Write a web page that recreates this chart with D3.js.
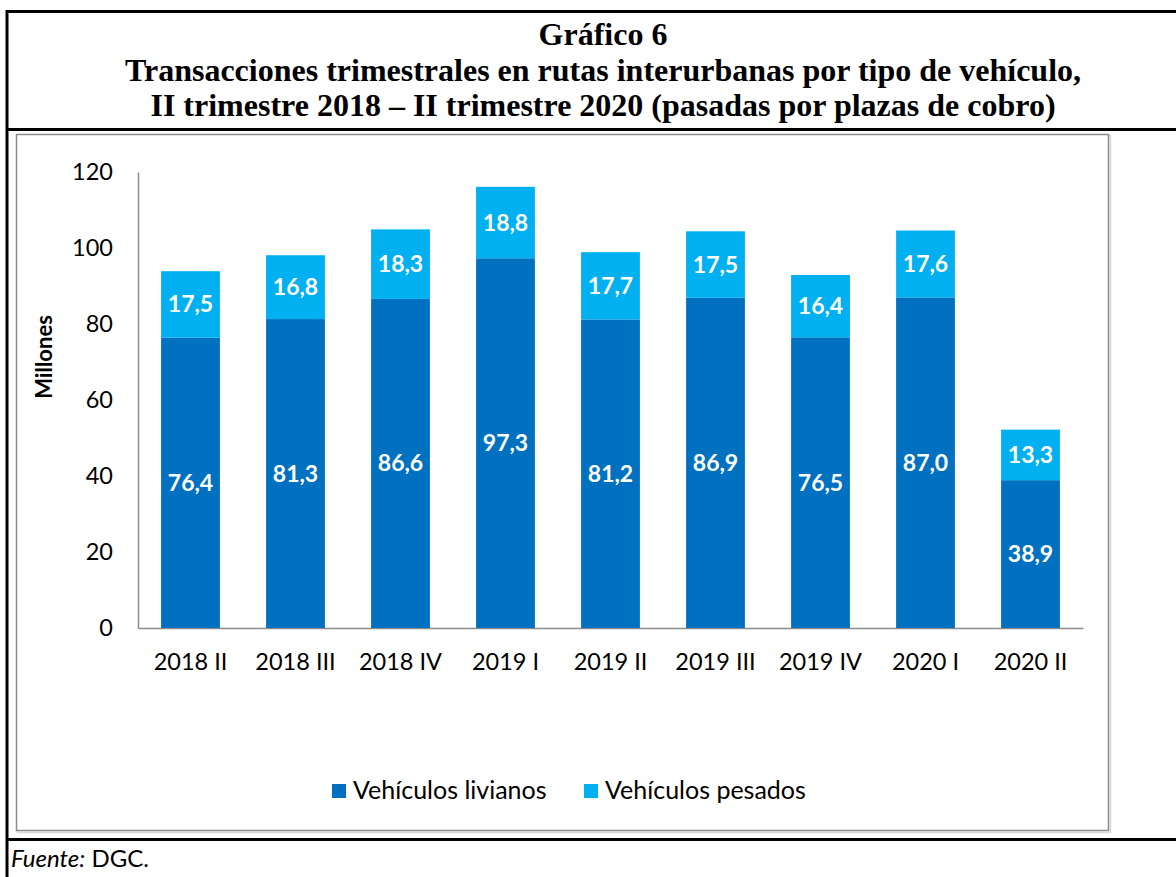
<!DOCTYPE html>
<html>
<head>
<meta charset="utf-8">
<script src="https://cdn.jsdelivr.net/npm/d3@7"></script>
<style>
  body { margin: 0; background: #fff; }
  svg { display: block; }
</style>
</head>
<body>
<div class="chart"></div>
<script>
// data
const quarters = ["2018 II", "2018 III", "2018 IV", "2019 I", "2019 II", "2019 III", "2019 IV", "2020 I", "2020 II"];
const livianos = [76.4, 81.3, 86.6, 97.3, 81.2, 86.9, 76.5, 87.0, 38.9];
const pesados = [17.5, 16.8, 18.3, 18.8, 17.7, 17.5, 16.4, 17.6, 13.3];
const seriesNames = ["Vehículos livianos", "Vehículos pesados"];
const seriesColors = ["#0070C0", "#00B0F0"];
const yTicks = [0, 20, 40, 60, 80, 100, 120];
const titleLines = [
  "Gráfico 6",
  "Transacciones trimestrales en rutas interurbanas por tipo de vehículo,",
  "II trimestre 2018 – II trimestre 2020 (pasadas por plazas de cobro)"
];

const width = 1176;
const height = 877;
const font = "Lato, 'Open Sans', sans-serif";

// plot area
const plotLeft = 138, plotRight = 1083, plotTop = 172, plotBottom = 628;

const svg = d3.select(".chart")
  .append("svg")
  .attr("width", width)
  .attr("height", height);

// outer frame lines
const frame = svg.append("g").attr("stroke", "#000").attr("stroke-width", 3);
frame.append("line").attr("x1", 7).attr("x2", 7).attr("y1", 10).attr("y2", height);
frame.append("line").attr("x1", 7).attr("x2", width).attr("y1", 11.5).attr("y2", 11.5);
frame.append("line").attr("x1", 7).attr("x2", width).attr("y1", 129.5).attr("y2", 129.5);
frame.append("line").attr("x1", 7).attr("x2", width).attr("y1", 839.5).attr("y2", 839.5);

// title
svg.append("g")
  .selectAll("text")
  .data(titleLines)
  .join("text")
  .attr("x", 603)
  .attr("y", (d, i) => 45 + i * 35.5)
  .attr("text-anchor", "middle")
  .style("font-family", "'Liberation Serif', 'Times New Roman', serif")
  .style("font-weight", "bold")
  .style("font-size", "32px")
  .text(d => d);

// chart area border (gray with a soft shadow)
svg.append("rect")
  .attr("x", 17.5).attr("y", 135.5)
  .attr("width", 1093).attr("height", 697)
  .attr("fill", "none").attr("stroke", "#d9d9d9").attr("stroke-width", 1.5);
svg.append("rect")
  .attr("x", 16.5).attr("y", 134.5)
  .attr("width", 1092).attr("height", 696)
  .attr("fill", "#fff").attr("stroke", "#8c8c8c").attr("stroke-width", 1.5);

// scales
const x = d3.scaleBand()
  .domain(quarters)
  .range([plotLeft, plotRight])
  .paddingInner(0.44)
  .paddingOuter(0.22);

const y = d3.scaleLinear()
  .domain([0, 120])
  .range([plotBottom, plotTop]);

// y axis
const yAxis = svg.append("g")
  .attr("transform", `translate(${plotLeft},0)`)
  .call(d3.axisLeft(y).tickValues(yTicks).tickSize(0).tickPadding(25));
yAxis.select(".domain").attr("stroke", "#8c8c8c").attr("stroke-width", 1.5);
yAxis.selectAll("text")
  .style("font-family", font)
  .style("font-size", "23.5px")
  .attr("fill", "#000");

// x axis
const xAxis = svg.append("g")
  .attr("transform", `translate(0,${plotBottom})`)
  .call(d3.axisBottom(x).tickSize(0).tickPadding(25));
xAxis.select(".domain").attr("stroke", "#8c8c8c").attr("stroke-width", 1.5);
xAxis.selectAll("text")
  .style("font-family", font)
  .style("font-size", "23.5px")
  .attr("fill", "#000");

// y axis title
svg.append("text")
  .attr("transform", `translate(52,357) rotate(-90)`)
  .attr("text-anchor", "middle")
  .style("font-family", font)
  .style("font-weight", "bold")
  .style("font-size", "22px")
  .text("Millones");

// stacked data
const rows = quarters.map((q, i) => ({ q: q, livianos: livianos[i], pesados: pesados[i] }));
const stack = d3.stack().keys(["livianos", "pesados"])(rows);

const layers = svg.append("g")
  .selectAll("g")
  .data(stack)
  .join("g")
  .attr("fill", (d, i) => seriesColors[i]);

layers.selectAll("rect")
  .data(d => d)
  .join("rect")
  .attr("x", d => x(d.data.q))
  .attr("y", d => y(d[1]))
  .attr("width", x.bandwidth())
  .attr("height", d => y(d[0]) - y(d[1]));

// labels
const fmt = v => v.toFixed(1).replace(".", ",");
layers.selectAll("text")
  .data(d => d)
  .join("text")
  .attr("x", d => x(d.data.q) + x.bandwidth() / 2)
  .attr("y", d => (y(d[0]) + y(d[1])) / 2 + 8)
  .attr("text-anchor", "middle")
  .attr("fill", "#fff")
  .style("font-family", font)
  .style("font-weight", "bold")
  .style("font-size", "23px")
  .text(d => fmt(d[1] - d[0]));

// legend
const legendX = [332, 584];
const legend = svg.append("g")
  .selectAll("g")
  .data(seriesNames)
  .join("g")
  .attr("transform", (d, i) => `translate(${legendX[i]},784)`);
legend.append("rect")
  .attr("width", 14).attr("height", 14)
  .attr("fill", (d, i) => seriesColors[i]);
legend.append("text")
  .attr("x", 21).attr("y", 15)
  .style("font-family", font)
  .style("font-size", "25px")
  .text(d => d);

// source
const src = svg.append("text")
  .attr("x", 11).attr("y", 867)
  .style("font-family", font)
  .style("font-size", "24px");
src.append("tspan").style("font-style", "italic").text("Fuente:");
src.append("tspan").text(" DGC.");
</script>
</body>
</html>
